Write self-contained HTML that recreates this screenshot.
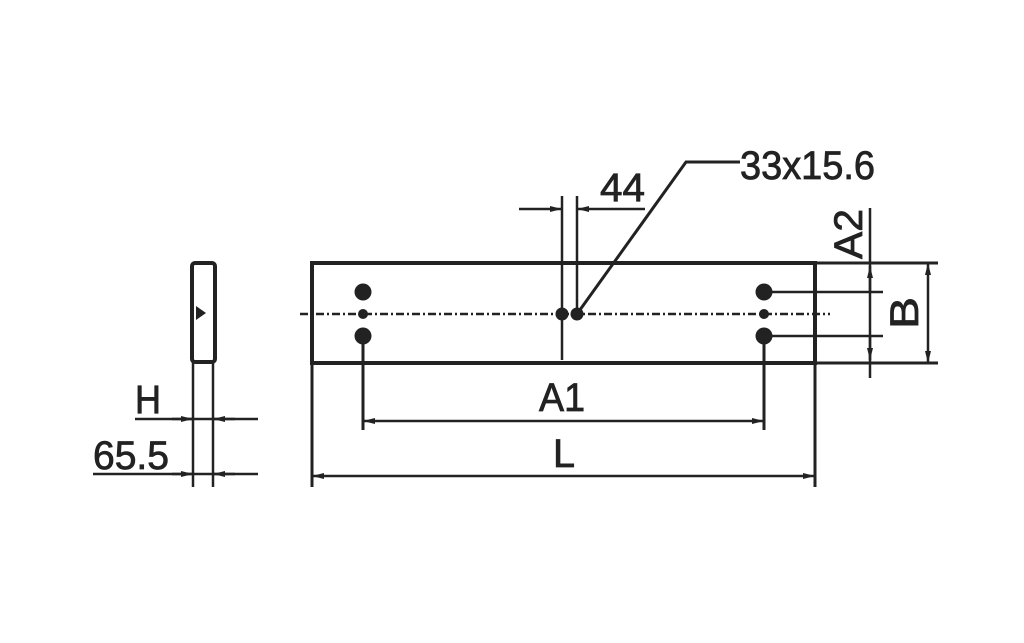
<!DOCTYPE html>
<html><head><meta charset="utf-8"><style>
html,body{margin:0;padding:0;background:#fff;}
svg{display:block;}
text{font-family:"Liberation Sans",sans-serif;fill:#222;}
</style></head><body>
<svg width="1024" height="643" viewBox="0 0 1024 643" xmlns="http://www.w3.org/2000/svg">
<defs>
<marker id="ar" viewBox="0 0 12 6" refX="12" refY="3" markerWidth="12" markerHeight="6" orient="auto-start-reverse" markerUnits="userSpaceOnUse"><path d="M0,0 L12,3 L0,6z" fill="#222"/></marker>
</defs>
<g stroke="#222" fill="none">
<rect x="312" y="263" width="503" height="100" stroke-width="4"/>
<line x1="300" y1="314" x2="830" y2="314" stroke-width="2.5" stroke-dasharray="8,3,2,3"/>
<line x1="363" y1="336" x2="363" y2="430" stroke-width="3"/>
<line x1="764" y1="336" x2="764" y2="430" stroke-width="3"/>
<line x1="312" y1="363" x2="312" y2="487" stroke-width="3"/>
<line x1="815" y1="363" x2="815" y2="487" stroke-width="3"/>
<line x1="363" y1="421" x2="764" y2="421" stroke-width="2.5" marker-start="url(#ar)" marker-end="url(#ar)"/>
<line x1="312" y1="476" x2="815" y2="476" stroke-width="2.5" marker-start="url(#ar)" marker-end="url(#ar)"/>
<line x1="562" y1="196" x2="562" y2="360" stroke-width="2.5"/>
<line x1="577" y1="196" x2="577" y2="314" stroke-width="2.5"/>
<line x1="519" y1="209" x2="562" y2="209" stroke-width="2.5" marker-end="url(#ar)"/>
<line x1="645" y1="209" x2="577" y2="209" stroke-width="2.5" marker-end="url(#ar)"/>
<polyline points="577,314 686,162 740,162" stroke-width="3"/>
<line x1="815" y1="263" x2="938" y2="263" stroke-width="3"/>
<line x1="815" y1="363" x2="938" y2="363" stroke-width="3"/>
<line x1="764" y1="292" x2="883" y2="292" stroke-width="2.5"/>
<line x1="764" y1="336" x2="883" y2="336" stroke-width="2.5"/>
<line x1="870" y1="208" x2="870" y2="378" stroke-width="2.5"/>
<line x1="870" y1="292" x2="870" y2="266" stroke-width="2.5" marker-end="url(#ar)"/>
<line x1="870" y1="336" x2="870" y2="360" stroke-width="2.5" marker-end="url(#ar)"/>
<line x1="928" y1="263" x2="928" y2="363" stroke-width="2.5" marker-start="url(#ar)" marker-end="url(#ar)"/>
<rect x="192" y="263" width="23" height="99" rx="3" stroke-width="4"/>
<line x1="193" y1="362" x2="193" y2="487" stroke-width="2.5"/>
<line x1="213" y1="362" x2="213" y2="487" stroke-width="2.5"/>
<line x1="135" y1="419" x2="258" y2="419" stroke-width="2.5"/>
<line x1="93" y1="474" x2="258" y2="474" stroke-width="2.5"/>
<line x1="172" y1="419" x2="193" y2="419" stroke-width="2.5" marker-end="url(#ar)"/>
<line x1="235" y1="419" x2="213" y2="419" stroke-width="2.5" marker-end="url(#ar)"/>
<line x1="172" y1="474" x2="193" y2="474" stroke-width="2.5" marker-end="url(#ar)"/>
<line x1="235" y1="474" x2="213" y2="474" stroke-width="2.5" marker-end="url(#ar)"/>
</g>
<g fill="#222">
<circle cx="363" cy="292" r="8.5"/><circle cx="363" cy="336" r="8.5"/>
<circle cx="764" cy="292" r="8.5"/><circle cx="764" cy="336" r="8.5"/>
<circle cx="363" cy="314" r="5"/><circle cx="764" cy="314" r="5"/>
<circle cx="562" cy="314" r="6.5"/><circle cx="577" cy="314" r="6.5"/>
<path d="M196,306 L206,313 L196,320z"/>
</g>
<g font-size="40" stroke="#222" stroke-width="0.8">
<text x="740" y="179" textLength="135" lengthAdjust="spacingAndGlyphs">33x15.6</text>
<text x="600" y="201" textLength="45" lengthAdjust="spacingAndGlyphs">44</text>
<text x="539" y="411" textLength="46" lengthAdjust="spacingAndGlyphs">A1</text>
<text x="553" y="467" textLength="22" lengthAdjust="spacingAndGlyphs">L</text>
<text x="135" y="413" textLength="26" lengthAdjust="spacingAndGlyphs">H</text>
<text x="93" y="469" textLength="76" lengthAdjust="spacingAndGlyphs">65.5</text>
<text transform="translate(862,259) rotate(-90)" textLength="50" lengthAdjust="spacingAndGlyphs">A2</text>
<text transform="translate(918,329) rotate(-90)" textLength="32" lengthAdjust="spacingAndGlyphs">B</text>
</g>
</svg>
</body></html>
